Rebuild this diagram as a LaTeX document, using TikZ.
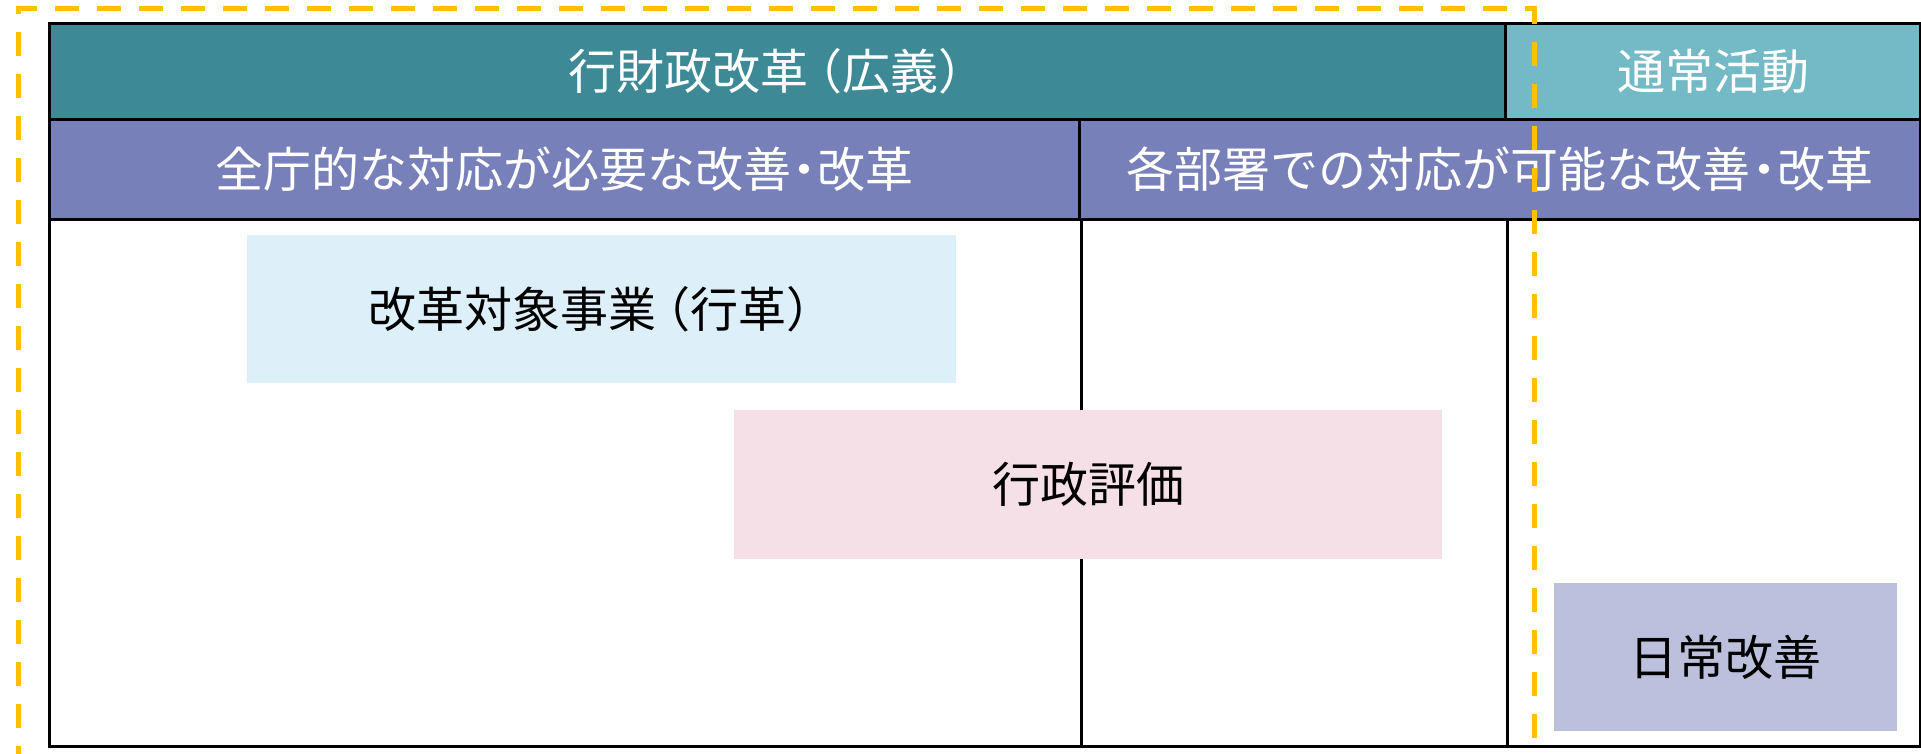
\documentclass[tikz,border=0pt]{standalone}
\usepackage{fontspec}
\newfontfamily\jp{Noto Sans CJK JP}
\definecolor{hdrdark}{HTML}{3D8A96}
\definecolor{hdrlight}{HTML}{74BAC6}
\definecolor{hdrpurple}{HTML}{7880BA}
\definecolor{boxblue}{HTML}{DDEFF8}
\definecolor{boxpink}{HTML}{F5E0E7}
\definecolor{boxlav}{HTML}{BCC0DC}
\definecolor{dashorange}{HTML}{FFC000}
\newcommand{\lp}{\hspace{-0.3em}（}
\newcommand{\rp}{）\hspace{-0.3em}}
\newcommand{\nk}{\hspace{-0.22em}・\hspace{-0.22em}}
\tikzset{
  cellbox/.style={draw=black, line width=3pt, inner sep=0pt, anchor=north west,
    text=white, font=\jp\fontsize{48}{52}\selectfont},
  itembox/.style={draw=none, inner sep=0pt, anchor=north west,
    text=black, font=\jp\fontsize{48}{52}\selectfont},
  gridline/.style={draw=black, line width=3pt},
  frameline/.style={draw=dashorange, line width=5pt, dash pattern=on 24pt off 18pt}
}
\begin{document}
\begin{tikzpicture}[x=1pt,y=-1pt]
\useasboundingbox (0,0) rectangle (1921,754);
\clip (0,0) rectangle (1921,754);
\fill[white] (0,0) rectangle (1921,754);
% table
\node[cellbox, fill=white, minimum width=1871pt, minimum height=527pt] (body) at (48,218) {};
\node[cellbox, fill=hdrdark, minimum width=1456pt, minimum height=96pt] (h1) at (48,22) {行財政改革\lp 広義\rp};
\node[cellbox, fill=hdrlight, minimum width=415pt, minimum height=96pt] (h2) at (1504,22) {通常活動};
\node[cellbox, fill=hdrpurple, minimum width=1030pt, minimum height=100pt] (p1) at (48,118) {全庁的な対応が必要な改善\nk 改革};
\node[cellbox, fill=hdrpurple, minimum width=841pt, minimum height=100pt] (p2) at (1078,118) {各部署での対応が可能な改善\nk 改革};
\coordinate (c1) at (p1.south east |- body.south);
\coordinate (c2) at (h1.south east |- body.north);
\coordinate (c3) at (h1.south east |- body.south);
\draw[gridline] (p1.south east) -- (c1);
\draw[gridline] (c2) -- (c3);
% items
\node[itembox, fill=boxblue, minimum width=709pt, minimum height=148pt] (gyokaku) at (247,235) {改革対象事業\lp 行革\rp};
\node[itembox, fill=boxpink, minimum width=708pt, minimum height=149pt] (hyoka) at (734,410) {行政評価};
\node[itembox, fill=boxlav, minimum width=343pt, minimum height=148pt] (nichijo) at (1554,583) {日常改善};
% dashed frame
\coordinate (f1) at (18,770);
\coordinate (f2) at (18,9);
\coordinate (f3) at (1534,9);
\coordinate (f4) at (1534,770);
\draw[frameline] (f1) -- (f2) -- (f3) -- (f4);
\end{tikzpicture}
\end{document}
